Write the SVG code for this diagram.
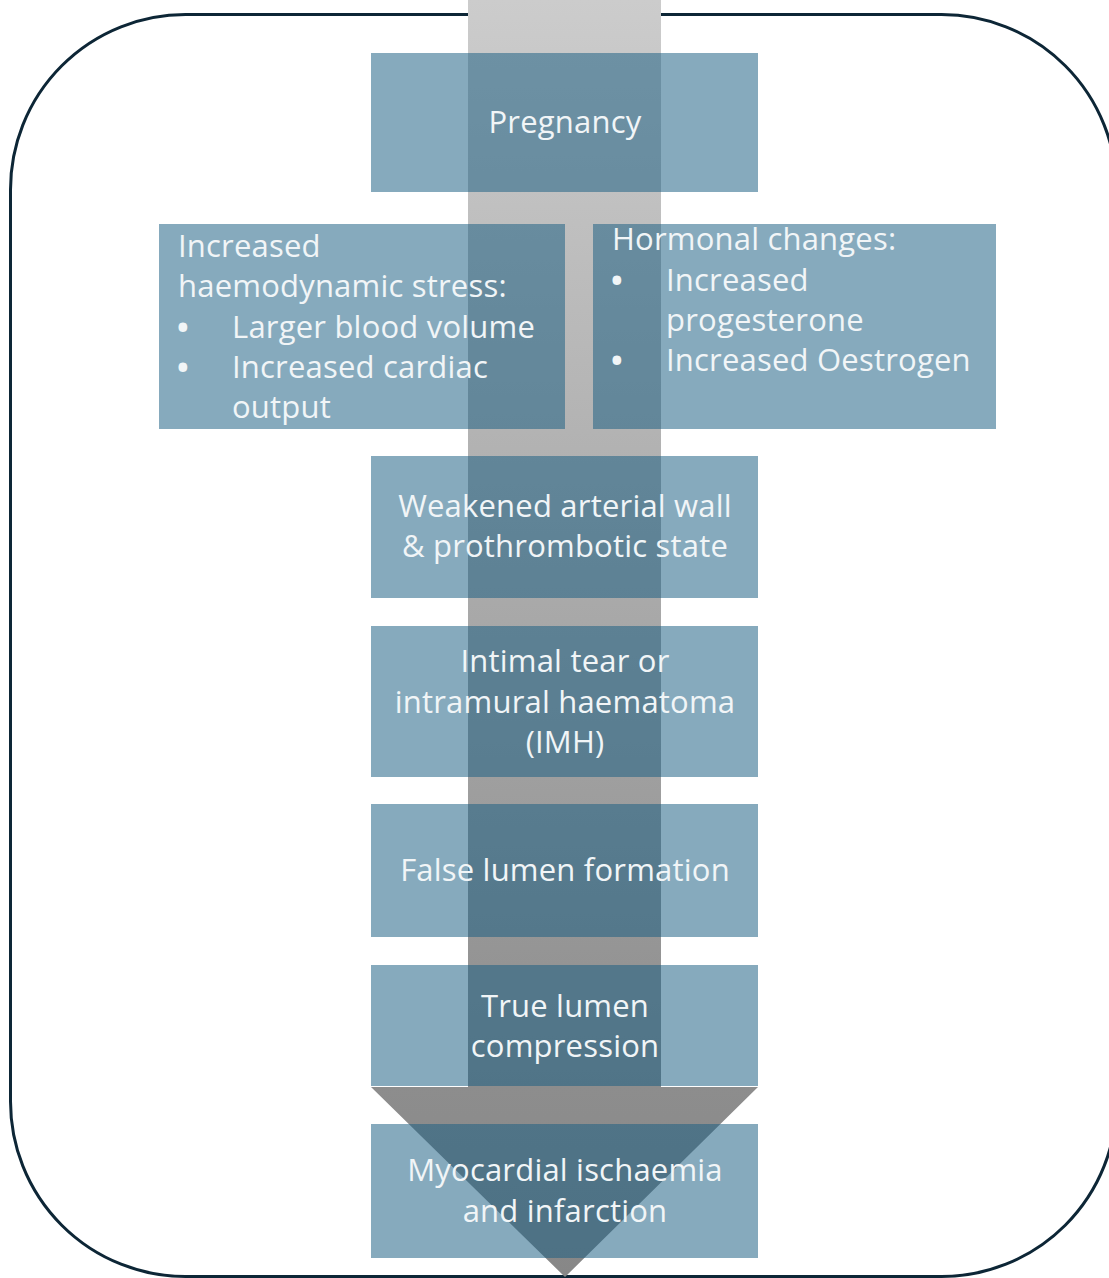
<svg xmlns="http://www.w3.org/2000/svg" width="1109" height="1278" viewBox="0 0 1109 1278">
<style>
.box{fill:#1a5e82;fill-opacity:0.53;}
.t{font-family:"Open Sans","Noto Sans","Liberation Sans",sans-serif;font-size:31px;letter-spacing:0.2px;fill:#f1f5f7;}
.b{font-weight:bold;}
.c{text-anchor:middle;}
</style>
<defs>
<linearGradient id="grey" x1="0" y1="0" x2="0" y2="1277" gradientUnits="userSpaceOnUse">
<stop offset="0" stop-color="#cccccc"/>
<stop offset="0.85" stop-color="#8d8d8d"/>
<stop offset="1" stop-color="#878787"/>
</linearGradient>
</defs>
<rect x="10.5" y="14.5" width="1106" height="1262" rx="175" ry="175" fill="#ffffff" stroke="#0d2636" stroke-width="3"/>
<g id="connectors">
<path d="M468,0 H661 V1087 H758 L565,1277 L371,1087 H468 Z" fill="url(#grey)"/>
</g>
<g id="pregnancy">
<rect class="box" x="371" y="53" width="387" height="139"/>
<text class="t c" x="565" y="133">Pregnancy</text>
</g>
<g id="haemodynamic">
<rect class="box" x="159" y="224" width="406" height="205"/>
<text class="t" x="178" y="257">Increased</text>
<text class="t" x="178" y="297">haemodynamic stress:</text>
<text class="t b" x="177" y="338">•</text>
<text class="t" x="232" y="338">Larger blood volume</text>
<text class="t b" x="177" y="378">•</text>
<text class="t" x="232" y="378">Increased cardiac</text>
<text class="t" x="232" y="418">output</text>
</g>
<g id="hormonal">
<rect class="box" x="593" y="224" width="403" height="205"/>
<text class="t" x="612" y="250">Hormonal changes:</text>
<text class="t b" x="611" y="291">•</text>
<text class="t" x="666" y="291">Increased</text>
<text class="t" x="666" y="331">progesterone</text>
<text class="t b" x="611" y="371">•</text>
<text class="t" x="666" y="371">Increased Oestrogen</text>
</g>
<g id="weakened">
<rect class="box" x="371" y="456" width="387" height="142"/>
<text class="t c" x="565" y="517">Weakened arterial wall</text>
<text class="t c" x="565" y="557">&amp; prothrombotic state</text>
</g>
<g id="intimal">
<rect class="box" x="371" y="626" width="387" height="151"/>
<text class="t c" x="565" y="672">Intimal tear or</text>
<text class="t c" x="565" y="713">intramural haematoma</text>
<text class="t c" x="565" y="753">(IMH)</text>
</g>
<g id="falselumen">
<rect class="box" x="371" y="804" width="387" height="133"/>
<text class="t c" x="565" y="881">False lumen formation</text>
</g>
<g id="truelumen">
<rect class="box" x="371" y="965" width="387" height="121"/>
<text class="t c" x="565" y="1017">True lumen</text>
<text class="t c" x="565" y="1057">compression</text>
</g>
<g id="myocardial">
<rect class="box" x="371" y="1124" width="387" height="134"/>
<text class="t c" x="565" y="1181">Myocardial ischaemia</text>
<text class="t c" x="565" y="1222">and infarction</text>
</g>
</svg>
